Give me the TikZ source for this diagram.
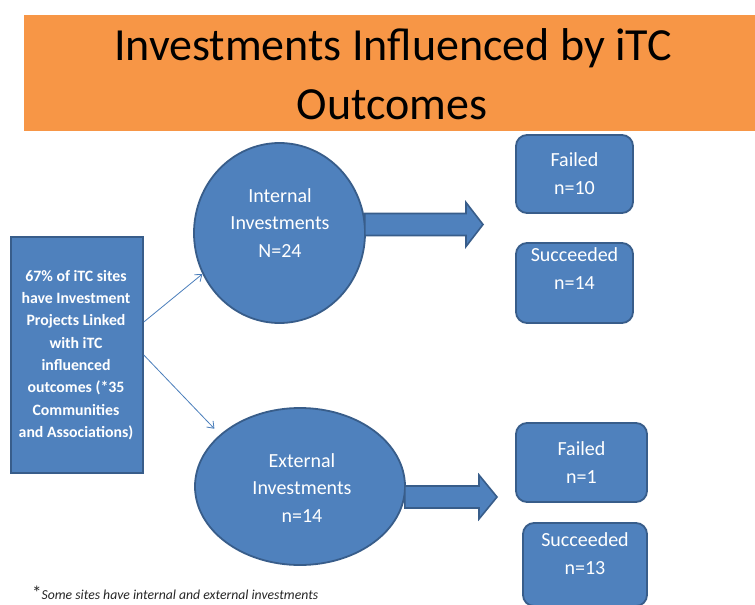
\documentclass[tikz,border=0pt]{standalone}
\usepackage{fontspec}
\setmainfont{Carlito}
\usetikzlibrary{calc,arrows.meta,shapes.geometric}
\definecolor{orangebar}{HTML}{F79646}
\definecolor{bluefill}{HTML}{4F81BD}
\definecolor{blueline}{HTML}{385D8A}
\definecolor{thinline}{HTML}{4A7EBB}
\begin{document}
\begin{tikzpicture}[x=1pt,y=-1pt,
  shapebox/.style={fill=bluefill,draw=blueline,line width=1.8pt,inner sep=0pt},
  roundbox/.style={shapebox,rectangle,rounded corners=11pt},
  whitetext/.style={text=white,align=center,inner sep=0pt,font=\fontsize{20}{27.5}\selectfont},
  blockarrow/.style={fill=bluefill,draw=blueline,line width=1.6pt,line join=miter},
  thinarrow/.style={draw=thinline,line width=0.8pt,-{Straight Barb[length=6pt,width=9pt]}}]
\useasboundingbox (0,0) rectangle (755,605);
\fill[white] (0,0) rectangle (755,605);
% banner
\node[fill=orangebar,minimum width=731pt,minimum height=116pt,inner sep=0pt,anchor=north west] (banner) at (24,15) {};
\node[anchor=base,inner sep=0pt,font=\fontsize{46}{46}\selectfont] (title1) at (393,60) {Investments Influenced by iTC};
\node[anchor=base,inner sep=0pt,font=\fontsize{46}{46}\selectfont] (title2) at (392,119) {Outcomes};
% source box
\node[shapebox,rectangle,minimum width=132pt,minimum height=236pt,anchor=north west] (src) at (10,236) {};
\node[text=white,align=center,inner sep=0pt,font=\bfseries\fontsize{15.8}{22.3}\selectfont] (srctext) at (76,355)
  {67\% of iTC sites\\have Investment\\Projects Linked\\with iTC\\influenced\\outcomes (*35\\Communities\\and Associations)};
% ellipses
\node[shapebox,ellipse,minimum width=171pt,minimum height=180pt] (int) at (279.5,233) {};
\node[whitetext] (inttext) at (280,223) {Internal\\Investments\\N=24};
\node[shapebox,ellipse,minimum width=210pt,minimum height=157pt] (ext) at (300,486.5) {};
\node[whitetext] (exttext) at (302,488) {External\\Investments\\n=14};
% thin arrows
\draw[thinarrow] ($(src.north east)+(0,86)$) -- (int.208);
\draw[thinarrow,shorten >=8pt] ($(src.north east)+(0,119)$) -- (ext.147);
% block arrows
\coordinate (tipA) at (483,224.5);
\coordinate (tipB) at (497,497);
\draw[blockarrow] let \p1=(int.east), \p2=(tipA) in
  (\x1-1pt,\y2+11pt) -- (\x2-17pt,\y2+11pt) -- (\x2-17pt,\y2+22pt) -- (\p2)
  -- (\x2-17pt,\y2-22pt) -- (\x2-17pt,\y2-11pt) -- (\x1-1pt,\y2-11pt) -- cycle;
\draw[blockarrow] let \p1=(ext.east), \p2=(tipB) in
  (\x1-1pt,\y2+11pt) -- (\x2-18pt,\y2+11pt) -- (\x2-18pt,\y2+22pt) -- (\p2)
  -- (\x2-18pt,\y2-22pt) -- (\x2-18pt,\y2-11pt) -- (\x1-1pt,\y2-11pt) -- cycle;
% outcome boxes
\node[roundbox,minimum width=117pt,minimum height=78pt] (f1) at (574.5,174) {};
\node[whitetext] (f1text) at (574.5,173.5) {Failed\\n=10};
\node[roundbox,minimum width=117pt,minimum height=80pt] (s1) at (574.5,283) {};
\node[whitetext] (s1text) at (574.5,268.5) {Succeeded\\n=14};
\node[roundbox,minimum width=131pt,minimum height=79pt] (f2) at (581.5,462.5) {};
\node[whitetext] (f2text) at (581.5,462.5) {Failed\\n=1};
\node[roundbox,minimum width=124pt,minimum height=83pt] (s2) at (585,564.5) {};
\node[whitetext] (s2text) at (585,553.5) {Succeeded\\n=13};
% footnote
\node[anchor=base west,inner sep=0pt,text=black!85] (fn) at (32,599.5)
  {\fontsize{19}{19}\selectfont *\fontsize{13.7}{15}\selectfont\itshape Some sites have internal and external investments};
\end{tikzpicture}
\end{document}
